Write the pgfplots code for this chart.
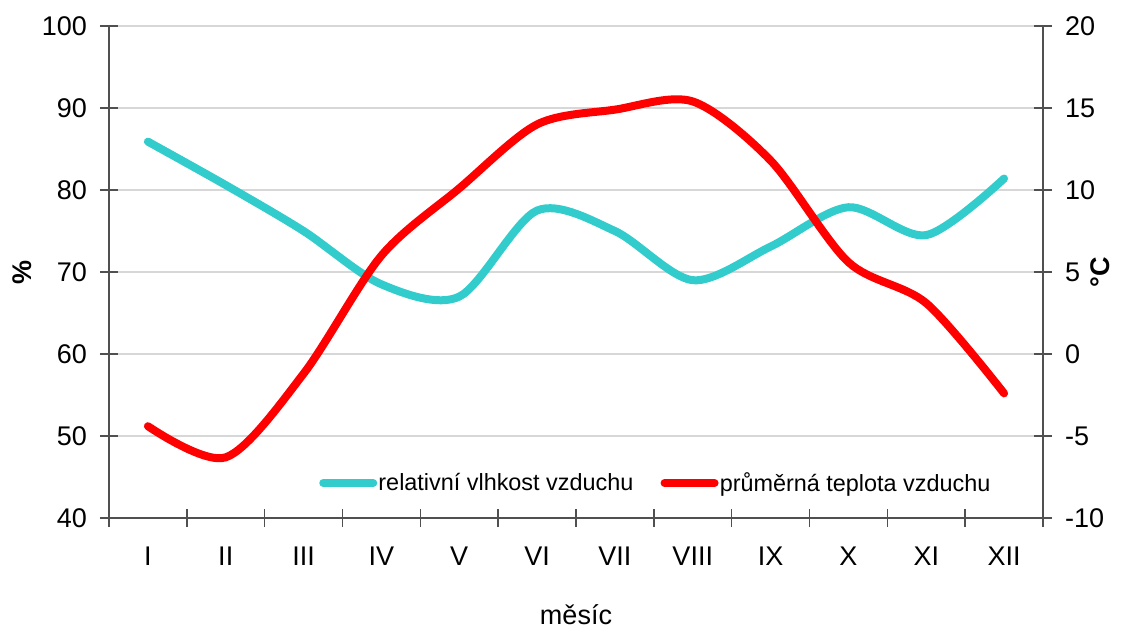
\documentclass[border=0pt]{standalone}
\usepackage{pgfplots}
\pgfplotsset{compat=1.18}
\usepackage{fontspec}
\setmainfont{Liberation Sans}
\definecolor{hum}{RGB}{51,204,204}
\definecolor{tmp}{RGB}{255,0,0}
\definecolor{gridc}{RGB}{215,215,215}
\definecolor{axc}{RGB}{80,80,80}
\pgfplotstableread{
x hum
1 85.9
2 80.6
3 75.0
4 68.5
5 67.0
6 77.5
7 75.0
8 69.0
9 73.1
10 77.9
11 74.5
12 81.4
}\humtable
\pgfplotstableread{
x tmp
1 -4.4
2 -6.3
3 -1.2
4 6.0
5 10.1
6 14.0
7 14.9
8 15.4
9 11.8
10 5.6
11 3.1
12 -2.4
}\tmptable
\pgfplotsset{
  common/.style={
    at={(0,0)}, anchor=south west,
    scale only axis, width=467pt, height=246pt,
    xmin=0.5, xmax=12.5,
    tick align=center,
    major tick length=9pt, minor tick length=9pt,
    tick style={axc, line width=0.8pt},
    axis line style={-, axc, line width=1pt},
    /pgf/number format/assume math mode=true,
    ticklabel style={font=\fontsize{13.5}{16}\selectfont},
    label style={font=\fontsize{13.5}{16}\selectfont},
  },
}
\begin{document}
\begin{tikzpicture}
\path[use as bounding box] (-54.5pt,-55.5pt) rectangle (507.5pt,259pt);
\begin{axis}[common,
  axis y line*=left, axis x line*=bottom,
  ymin=40, ymax=100, ytick={40,50,...,100},
  ymajorgrids, grid style={gridc, line width=1pt},
  xtick={1,...,12},
  xticklabels={I,II,III,IV,V,VI,VII,VIII,IX,X,XI,XII},
  major x tick style={draw=none},
  minor xtick={0.5,1.5,...,12.5},
  xticklabel style={anchor=center, yshift=-14.5pt},
  yticklabel style={anchor=east, xshift=-3pt},
  xlabel={měsíc},
  ylabel={\textbf{\%}},
  every axis x label/.append style={at={(axis description cs:0.5,0)}, anchor=center, yshift=-48.5pt},
  every axis y label/.append style={at={(axis description cs:-0.093,0.5)}, anchor=center},
]
\addplot[hum, line width=4pt, line cap=round, smooth] table[x=x, y=hum] {\humtable};
\end{axis}
\begin{axis}[common,
  axis y line*=right, axis x line=none,
  ymin=-10, ymax=20, ytick={-10,-5,...,20},
  yticklabel style={anchor=west, xshift=3pt},
  ylabel={\textbf{°C}},
  every axis y label/.append style={at={(axis description cs:1.061,0.5)}, anchor=center},
  legend style={at={(0.585,0.071)}, anchor=center, draw=none, fill=none,
    font=\fontsize{11.7}{14}\selectfont, legend columns=2,
    /tikz/every even column/.append style={column sep=13pt},
    nodes={inner sep=0.6pt}},
  legend image code/.code={\draw[#1] (0pt,0pt) -- (25pt,0pt);},
]
\addlegendimage{hum, line width=4pt, line cap=round}
\addlegendentry{relativní vlhkost vzduchu}
\addplot[tmp, line width=4pt, line cap=round, smooth] table[x=x, y=tmp] {\tmptable};
\addlegendentry{průměrná teplota vzduchu}
\end{axis}
\end{tikzpicture}
\end{document}
